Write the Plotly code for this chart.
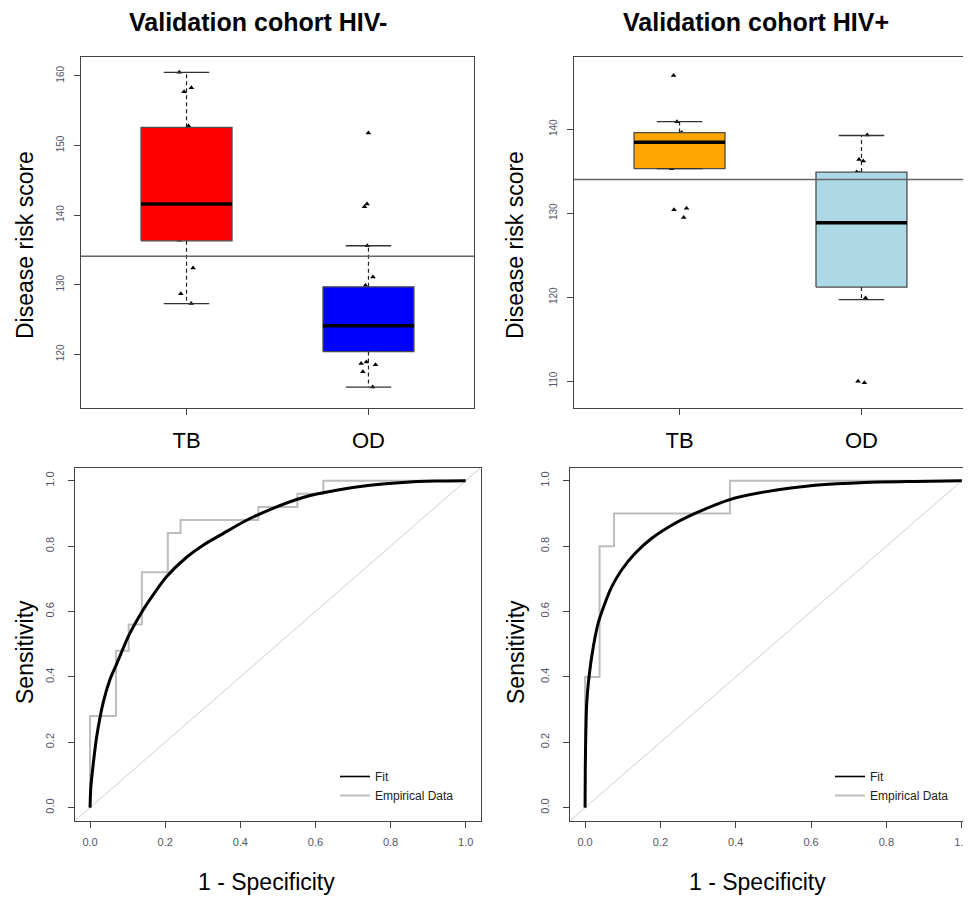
import plotly.graph_objects as go

# ---------------- data ----------------
GROUPS = ["TB", "OD"]
THRESHOLD_NEG = 134.1
THRESHOLD_POS = 134.0

# HIV- cohort: disease risk scores
NEG_TB_SCORES = [160.5, 158.3, 157.7, 152.8, 146.0, 145.8, 143.6, 139.5, 137.2,
                 136.6, 136.4, 132.4, 128.7, 127.3]
NEG_OD_SCORES = [151.8, 141.6, 141.2, 135.6, 131.1, 129.9, 128.4, 127.9, 127.7,
                 126.8, 124.1, 123.0, 121.5, 120.9, 120.8, 118.9, 118.7, 118.5,
                 117.5, 115.3]
# box statistics: lower whisker, Q1, median, Q3, upper whisker
NEG_TB_STATS = [127.3, 136.3, 141.6, 152.6, 160.5]
NEG_OD_STATS = [115.3, 120.4, 124.1, 129.7, 135.6]

# HIV+ cohort
POS_TB_SCORES = [146.4, 140.9, 139.6, 138.9, 138.6, 137.5, 135.3, 130.6, 130.4, 129.5]
POS_OD_SCORES = [139.3, 136.4, 136.2, 134.9, 134.8, 133.7, 129.1, 124.5, 122.3,
                 121.4, 119.9, 110.0, 109.8]
POS_TB_STATS = [135.3, 135.3, 138.45, 139.6, 140.9]
POS_OD_STATS = [119.7, 121.2, 128.85, 134.9, 139.25]

# ROC, HIV-
NEG_EMP_FPR = [0, 0, 0.069, 0.103, 0.138, 0.207, 0.241, 0.448, 0.552, 0.621, 1.0]
NEG_EMP_TPR = [0, 0.28, 0.48, 0.56, 0.72, 0.84, 0.88, 0.92, 0.96, 1.0, 1.0]
NEG_FIT_FPR = [0, 0.002, 0.009, 0.018, 0.035, 0.053, 0.071, 0.102, 0.136, 0.168,
               0.204, 0.257, 0.301, 0.355, 0.408, 0.479, 0.567, 0.656, 0.745,
               0.833, 0.92, 1.0]
NEG_FIT_TPR = [0, 0.06, 0.138, 0.219, 0.321, 0.392, 0.440, 0.524, 0.595, 0.651,
               0.707, 0.766, 0.803, 0.839, 0.874, 0.912, 0.949, 0.971, 0.986,
               0.995, 0.999, 1.0]

# ROC, HIV+
POS_EMP_FPR = [0, 0, 0.0385, 0.0769, 0.3846, 1.0]
POS_EMP_TPR = [0, 0.4, 0.8, 0.9, 1.0, 1.0]
POS_FIT_FPR = [0, 0.0006, 0.002, 0.0044, 0.0106, 0.022, 0.035, 0.053, 0.071,
               0.097, 0.133, 0.177, 0.230, 0.292, 0.380, 0.478, 0.611, 0.743,
               0.876, 1.0]
POS_FIT_TPR = [0, 0.12, 0.229, 0.321, 0.402, 0.493, 0.565, 0.626, 0.676, 0.727,
               0.778, 0.824, 0.864, 0.900, 0.941, 0.966, 0.986, 0.995, 0.998, 1.0]

# ---------------- styling ----------------
OFF = 8                      # page body margin of the html page
W, H = 971 - OFF, 901 - OFF
FONT = "Liberation Sans, Arial, sans-serif"
FRAME = "#444444"
TICKFONT = "#555566"
BOX_HALF = 0.25
COLORS = {"neg": ["#FF0000", "#0000FF"], "pos": ["#FFA500", "#ADD8E6"]}


def px_x(p):
    return (p - OFF) / W


def px_y(p):
    return 1 - (p - OFF) / H


fig = go.Figure()


def add_box(stats, pos, color, xa, ya):
    lo, q1, med, q3, hi = stats
    fig.add_trace(go.Scatter(
        x=[pos - BOX_HALF, pos + BOX_HALF, pos + BOX_HALF, pos - BOX_HALF, pos - BOX_HALF],
        y=[q1, q1, q3, q3, q1], mode="lines", fill="toself", fillcolor=color,
        line=dict(color="#4d4d4d", width=1.3), xaxis=xa, yaxis=ya,
        showlegend=False, hoverinfo="skip"))
    fig.add_trace(go.Scatter(
        x=[pos, pos, None, pos, pos], y=[q3, hi, None, q1, lo], mode="lines",
        line=dict(color="#222222", width=1.2, dash="4px,3px"), xaxis=xa, yaxis=ya,
        showlegend=False, hoverinfo="skip"))
    fig.add_trace(go.Scatter(
        x=[pos - BOX_HALF / 2, pos + BOX_HALF / 2, None, pos - BOX_HALF / 2, pos + BOX_HALF / 2],
        y=[hi, hi, None, lo, lo], mode="lines",
        line=dict(color="#333333", width=1.3), xaxis=xa, yaxis=ya,
        showlegend=False, hoverinfo="skip"))
    fig.add_trace(go.Scatter(
        x=[pos - BOX_HALF, pos + BOX_HALF], y=[med, med], mode="lines",
        line=dict(color="black", width=3.5), xaxis=xa, yaxis=ya,
        showlegend=False, hoverinfo="skip"))


def add_points(scores, pos, xa, ya):
    fig.add_trace(go.Box(
        y=scores, x0=pos, width=2 * BOX_HALF, boxpoints="all", jitter=0.2,
        pointpos=0, fillcolor="rgba(0,0,0,0)",
        line=dict(color="rgba(0,0,0,0)", width=0), whiskerwidth=0,
        marker=dict(symbol="triangle-up", size=5, color="black"),
        xaxis=xa, yaxis=ya, showlegend=False, hoveron="points", name=""))


# top-left: HIV-
for i, stats in enumerate([NEG_TB_STATS, NEG_OD_STATS]):
    add_box(stats, i + 1, COLORS["neg"][i], "x", "y")
for i, scores in enumerate([NEG_TB_SCORES, NEG_OD_SCORES]):
    add_points(scores, i + 1, "x", "y")

# top-right: HIV+
for i, stats in enumerate([POS_TB_STATS, POS_OD_STATS]):
    add_box(stats, i + 1, COLORS["pos"][i], "x2", "y2")
for i, scores in enumerate([POS_TB_SCORES, POS_OD_SCORES]):
    add_points(scores, i + 1, "x2", "y2")


def add_roc(emp_x, emp_y, fit_x, fit_y, xa, ya, legend):
    fig.add_trace(go.Scatter(
        x=emp_x, y=emp_y, mode="lines", name="Empirical Data",
        line=dict(color="#bdbdbd", width=2, shape="hv"), xaxis=xa, yaxis=ya,
        legend=legend, legendrank=2))
    fig.add_trace(go.Scatter(
        x=fit_x, y=fit_y, mode="lines", name="Fit",
        line=dict(color="black", width=3, shape="spline", smoothing=0.6),
        xaxis=xa, yaxis=ya, showlegend=False))
    # legend entry for the fit, drawn with a thinner sample line
    fig.add_trace(go.Scatter(
        x=[None], y=[None], mode="lines", name="Fit",
        line=dict(color="black", width=1.6), xaxis=xa, yaxis=ya,
        legend=legend, legendrank=1, hoverinfo="skip"))


add_roc(NEG_EMP_FPR, NEG_EMP_TPR, NEG_FIT_FPR, NEG_FIT_TPR, "x3", "y3", "legend")
add_roc(POS_EMP_FPR, POS_EMP_TPR, POS_FIT_FPR, POS_FIT_TPR, "x4", "y4", "legend2")

# ---------------- axes ----------------
base = dict(showline=True, linecolor=FRAME, linewidth=1.3, mirror=True, ticks="outside",
            ticklen=6, tickwidth=1.2, tickcolor=FRAME, showgrid=False, zeroline=False,
            tickfont=dict(family=FONT, size=10, color=TICKFONT))

box_x = dict(base, type="linear", range=[0.42, 2.58], tickvals=[1, 2], ticktext=GROUPS,
             tickfont=dict(family=FONT, size=22, color="black"), ticklabelstandoff=6)
box_y = dict(base, tickangle=-90, ticklabelstandoff=6, dtick=10)

roc_ticks = [0, 0.2, 0.4, 0.6, 0.8, 1.0]
roc_font = dict(family=FONT, size=11, color=TICKFONT)

fig.update_layout(
    xaxis=dict(box_x, domain=[px_x(81), px_x(474)], anchor="y"),
    yaxis=dict(box_y, domain=[px_y(408), px_y(57)], range=[112.3, 162.7], anchor="x",
               tick0=120),
    xaxis2=dict(box_x, domain=[px_x(574), px_x(967)], anchor="y2"),
    yaxis2=dict(box_y, domain=[px_y(408), px_y(57)], range=[106.8, 148.6], anchor="x2",
                tick0=110),
    xaxis3=dict(base, domain=[px_x(75), px_x(480.7)], range=[-0.04, 1.04], anchor="y3",
                tickvals=roc_ticks, tickformat=".1f", tickfont=roc_font,
                ticklabelstandoff=5),
    yaxis3=dict(base, domain=[px_y(820.7), px_y(467.7)], range=[-0.04, 1.04], anchor="x3",
                tickvals=roc_ticks, tickformat=".1f", tickangle=-90, tickfont=roc_font,
                ticklabelstandoff=9),
    xaxis4=dict(base, domain=[px_x(570), 1.0], range=[-0.04, 1.0245], anchor="y4",
                tickvals=roc_ticks, tickformat=".1f", tickfont=roc_font,
                ticklabelstandoff=5),
    yaxis4=dict(base, domain=[px_y(820.7), px_y(467.7)], range=[-0.04, 1.04], anchor="x4",
                mirror=False, tickvals=roc_ticks, tickformat=".1f", tickangle=-90,
                tickfont=roc_font, ticklabelstandoff=9),
)

# threshold lines and chance diagonals
fig.add_shape(type="line", xref="x domain", yref="y", x0=0, x1=1, y0=THRESHOLD_NEG,
              y1=THRESHOLD_NEG, line=dict(color="#666666", width=1.5))
fig.add_shape(type="line", xref="x2 domain", yref="y2", x0=0, x1=1, y0=THRESHOLD_POS,
              y1=THRESHOLD_POS, line=dict(color="#666666", width=1.5))
fig.add_shape(type="line", xref="x3 domain", yref="y3 domain", x0=0, x1=1, y0=0, y1=1,
              line=dict(color="#cfcfcf", width=1), layer="below")
fig.add_shape(type="line", xref="x4", yref="y4", x0=-0.04, x1=1.04, y0=-0.04, y1=1.04,
              line=dict(color="#cfcfcf", width=1), layer="below")

# ---------------- text ----------------
ann = []


def text(t, x, y, size, bold=False, angle=0):
    ann.append(dict(text=f"<b>{t}</b>" if bold else t, x=px_x(x), y=px_y(y),
                    xref="paper", yref="paper", showarrow=False, textangle=angle,
                    xanchor="center", yanchor="middle",
                    font=dict(family=FONT, size=size, color="black")))


text("Validation cohort HIV-", 258, 22, 25, bold=True)
text("Validation cohort HIV+", 756, 22, 25, bold=True)
text("Disease risk score", 25, 245, 23, angle=-90)
text("Disease risk score", 515, 245, 23, angle=-90)
text("Sensitivity", 25, 652, 23, angle=-90)
text("Sensitivity", 516, 652, 23, angle=-90)
text("1 - Specificity", 266, 882, 23)
text("1 - Specificity", 757, 882, 23)

legend_style = dict(font=dict(family=FONT, size=12, color="#222222"), bgcolor="rgba(0,0,0,0)",
                    xanchor="left", yanchor="top", traceorder="normal",
                    itemwidth=30, tracegroupgap=0)

fig.update_layout(
    width=W, height=H, margin=dict(l=0, r=0, t=0, b=0),
    paper_bgcolor="white", plot_bgcolor="white",
    annotations=ann,
    legend=dict(legend_style, x=px_x(335), y=px_y(762)),
    legend2=dict(legend_style, x=px_x(830), y=px_y(762)),
    showlegend=True,
)

fig.write_html("out.html")
